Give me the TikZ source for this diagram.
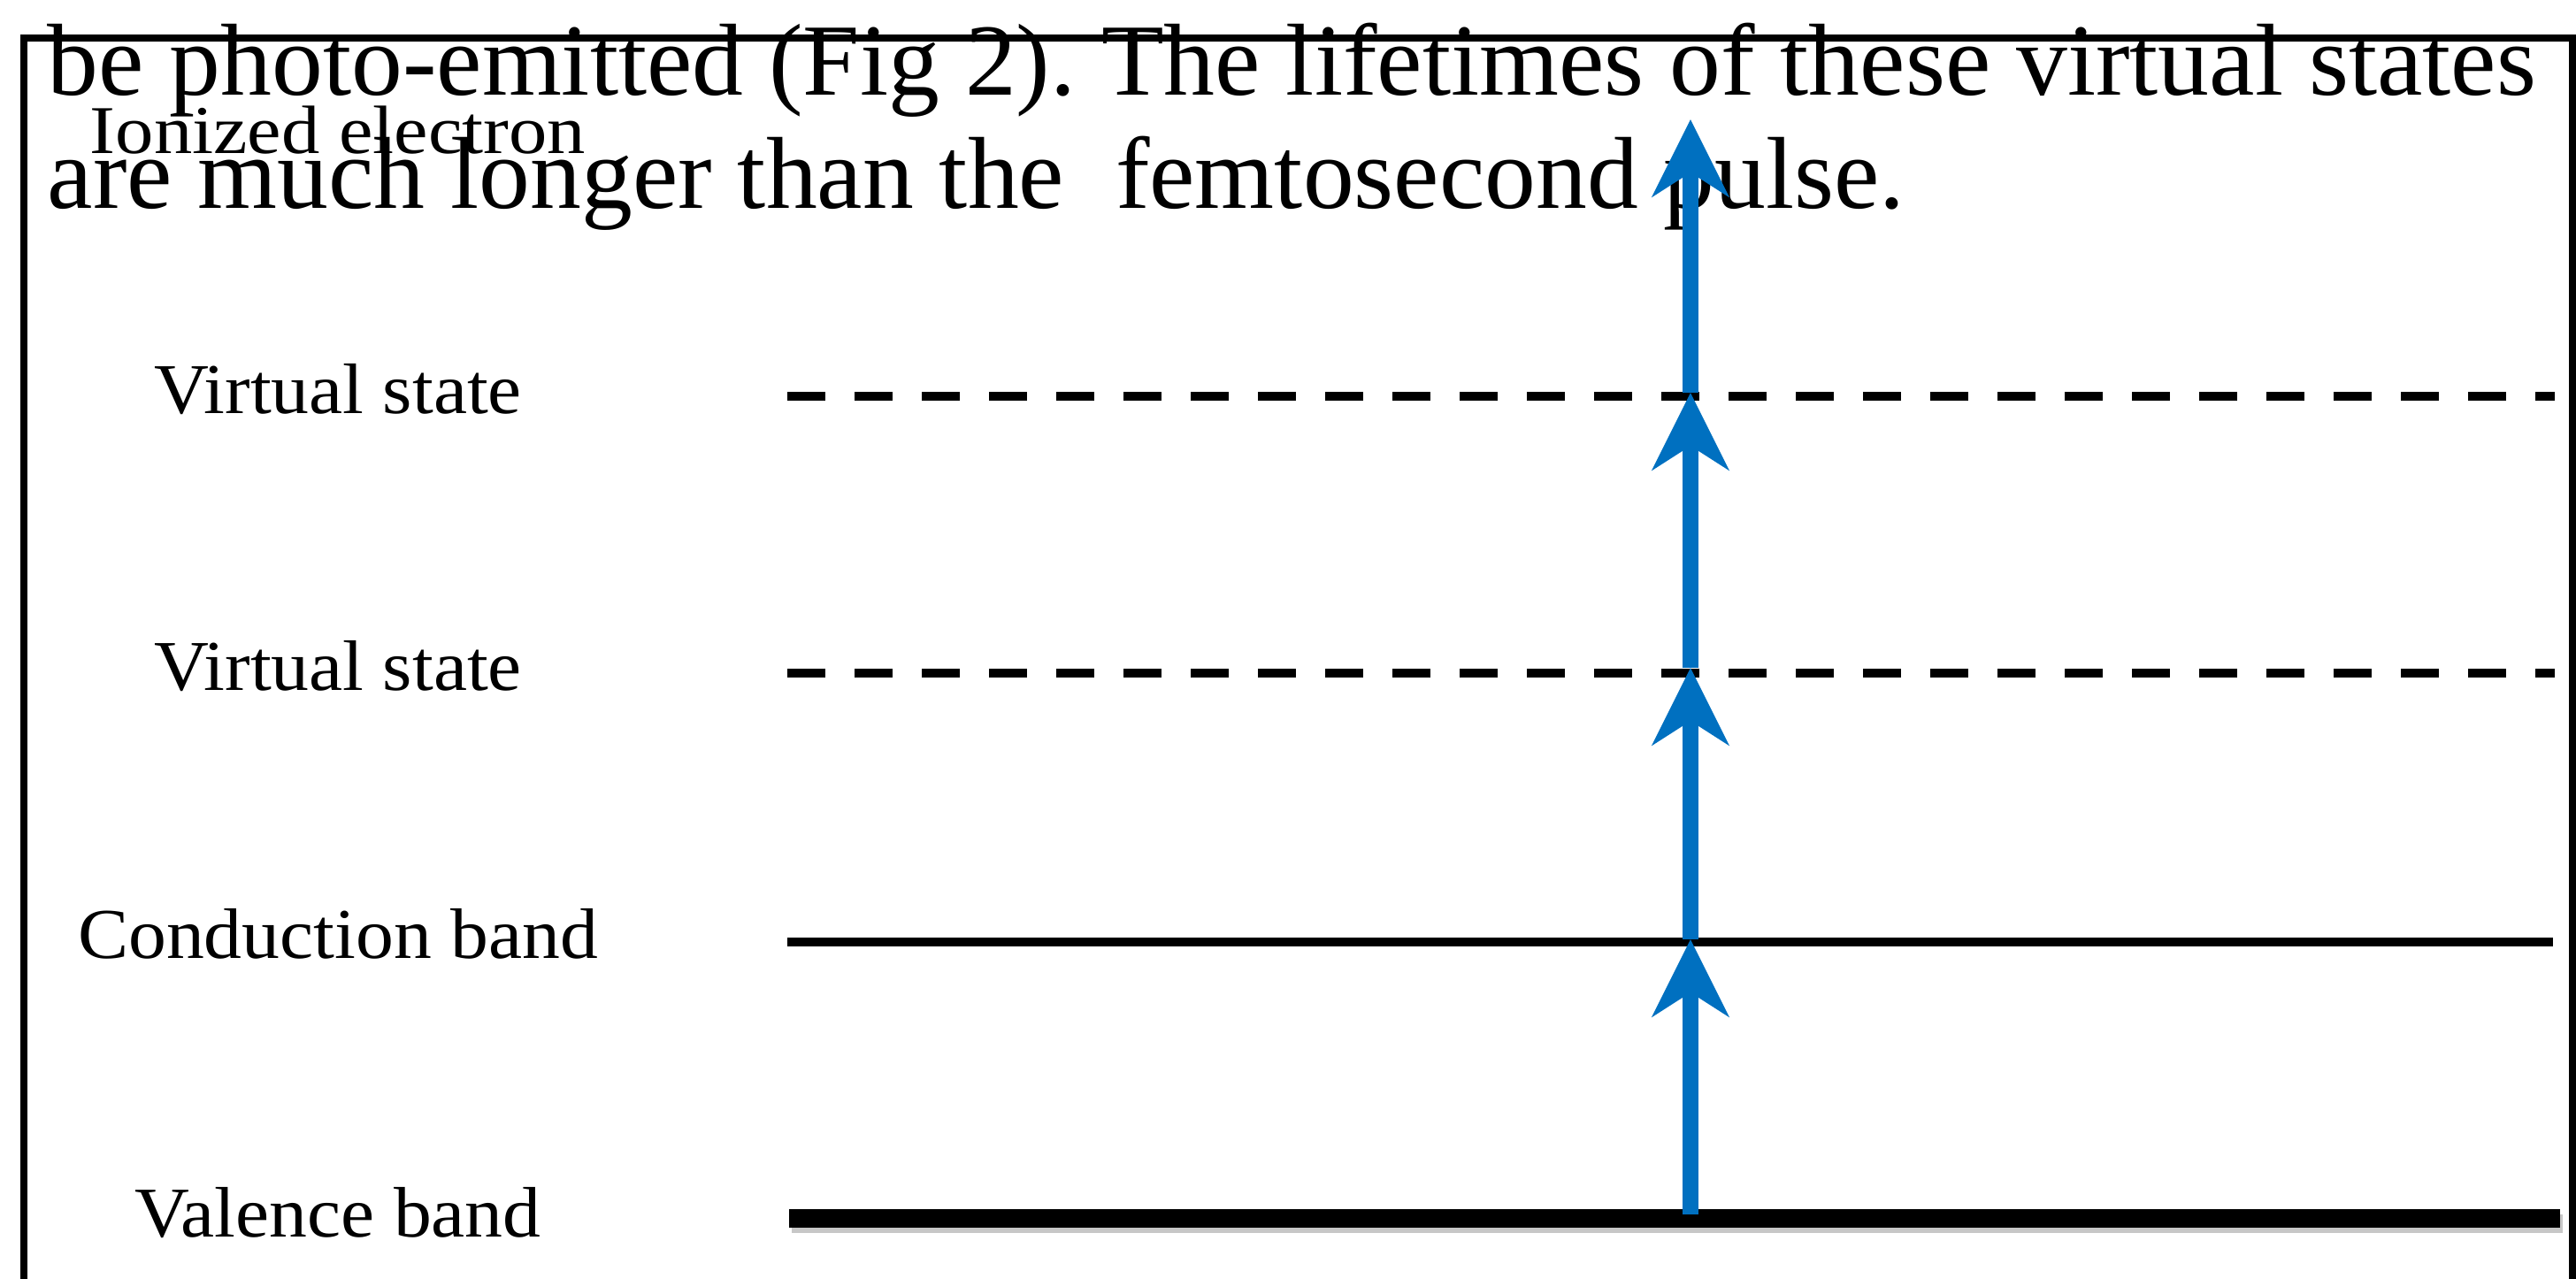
\documentclass[tikz,border=0pt]{standalone}
\usepackage{fontspec}
\setmainfont{Liberation Serif}
\newfontfamily\lblfont[FakeStretch=1.06]{Liberation Serif}
\newfontfamily\ionfont[FakeStretch=1.12]{Liberation Serif}
\usepackage{tikz}
\usetikzlibrary{arrows.meta,calc}
\definecolor{photonblue}{RGB}{0,112,192}
\frenchspacing

\begin{document}
\begin{tikzpicture}[
    level/.style={line width=1mm},
    virtual/.style={line width=1mm, dash pattern=on 4.3mm off 3.3mm},
    photon/.style={photonblue, line width=1.8mm, -{Stealth[length=8.7mm,width=8.6mm,inset=2.7mm]}},
    lbl/.style={font=\lblfont\fontsize{23}{26}\selectfont, anchor=base, inner sep=0pt},
    prose/.style={font=\fontsize{32.9}{36}\selectfont, anchor=base west, inner sep=0pt}]
    \clip (0,0) rectangle (29.12,-14.46);
    % frame, open at the bottom
    \draw[line width=0.8mm] (0.265,-15) |- (29.08,-0.43) -- (29.08,-15);
    % running text of the page behind the figure
    \node[prose] (txtA) at (0.53,-1.07) {be photo-emitted (Fig 2). The lifetimes of these virtual states};
    \node[prose] (txtB) at (0.53,-2.35) {are much longer than the\ \ femtosecond pulse.};
    % energy levels
    \coordinate (vsB-l) at (8.9,-4.48);   \coordinate (vsB-r) at (28.88,-4.48);
    \coordinate (vsA-l) at (8.9,-7.61);   \coordinate (vsA-r) at (28.88,-7.61);
    \coordinate (cb-l)  at (8.9,-10.65);  \coordinate (cb-r)  at (28.86,-10.65);
    \coordinate (vb-l)  at (8.92,-13.77); \coordinate (vb-r)  at (28.94,-13.77);
    \draw[virtual] (vsB-l) -- (vsB-r);
    \draw[virtual] (vsA-l) -- (vsA-r);
    \draw[level] (cb-l) -- (cb-r);
    \draw[black!22, line width=2.1mm] ($(vb-l)+(0.03,-0.06)$) -- ($(vb-r)+(0.03,-0.06)$);
    \draw[level, line width=2.1mm] (vb-l) -- (vb-r);
    % labels
    \node[lbl, font=\ionfont\fontsize{22}{24}\selectfont] (ionLbl) at (3.82,-1.73) {Ionized electron};
    \node[lbl] (vsBLbl) at (3.82,-4.67) {Virtual state};
    \node[lbl] (vsALbl) at (3.82,-7.80) {Virtual state};
    \node[lbl] (cbLbl)  at (3.82,-10.83) {Conduction band};
    \node[lbl] (vbLbl)  at (3.82,-13.98) {Valence band};
    % photon steps
    \coordinate (p0) at (19.11,-13.73);
    \coordinate (p1) at (19.11,-10.62);
    \coordinate (p2) at (19.11,-7.55);
    \coordinate (p3) at (19.11,-4.44);
    \coordinate (p4) at (19.11,-1.35);
    \draw[photon] (p0) -- (p1);
    \draw[photon] (p1) -- (p2);
    \draw[photon] (p2) -- (p3);
    \draw[photon] (p3) -- (p4);
\end{tikzpicture}
\end{document}
